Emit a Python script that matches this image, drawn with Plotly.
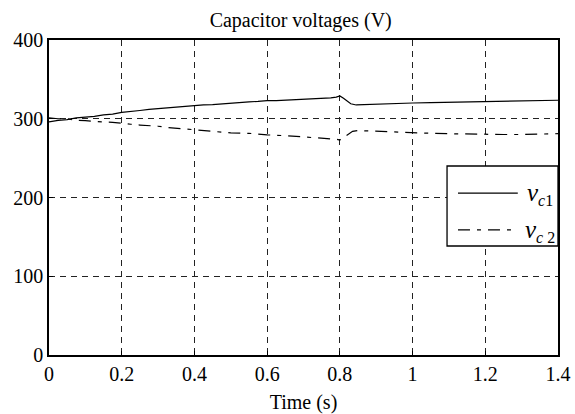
import plotly.graph_objects as go

t1 = [0, 0.025, 0.05, 0.075, 0.1, 0.125, 0.15, 0.175, 0.2, 0.225, 0.25, 0.275, 0.3, 0.325,
      0.35, 0.375, 0.4, 0.425, 0.45, 0.475, 0.5, 0.525, 0.55, 0.575, 0.6, 0.625, 0.65, 0.675,
      0.7, 0.725, 0.75, 0.775, 0.79, 0.8, 0.81, 0.82, 0.83, 0.845, 0.87, 0.9, 0.925, 0.95,
      0.975, 1.0, 1.05, 1.1, 1.15, 1.2, 1.25, 1.3, 1.35, 1.4]
vc1 = [296, 298, 299, 301, 302, 303, 305, 306, 308, 309, 310.5, 312, 313, 314,
       315, 316, 316.5, 317.5, 318, 319, 320, 320.5, 321.5, 322, 323, 323, 323.5, 324,
       324.5, 325, 325.5, 326.5, 327.5, 329, 326, 322, 319, 317.5, 318, 318.5, 319, 319,
       319.5, 320, 320.5, 321, 321.5, 322, 322.5, 323, 323.5, 323.5]

t2 = [0, 0.025, 0.05, 0.075, 0.1, 0.125, 0.15, 0.175, 0.2, 0.225, 0.25, 0.275, 0.3, 0.325,
      0.35, 0.375, 0.4, 0.425, 0.45, 0.475, 0.5, 0.55, 0.6, 0.65, 0.7, 0.75, 0.775, 0.79,
      0.8, 0.81, 0.82, 0.835, 0.85, 0.9, 0.95, 1.0, 1.05, 1.1, 1.15, 1.2, 1.25, 1.3, 1.35, 1.4]
vc2 = [301, 300, 300, 298, 297.5, 296.5, 296, 295.5, 294, 293, 292, 291.5, 290.5, 289,
       288, 287, 286, 285, 284, 283, 282, 281.5, 279.5, 278.5, 277, 276, 275, 274,
       273, 276, 280, 284, 285, 284, 283, 282, 281.5, 281, 280.5, 280, 280, 280, 280.5, 281]

xticks = [0, 0.2, 0.4, 0.6, 0.8, 1, 1.2, 1.4]
xticklabels = ["0", "0.2", "0.4", "0.6", "0.8", "1", "1.2", "1.4"]
yticks = [0, 100, 200, 300, 400]
series_names = [
    "<i>v</i><sub><span style='font-size:16px'><i>c</i>1</span></sub>",
    "<i>v</i><sub><span style='font-size:16px'><i>c</i> 2</span></sub>",
]

FONT = "Liberation Serif"
DASH2 = "12px,7px,4px,7px"

fig = go.Figure()
fig.add_trace(go.Scatter(x=t1, y=vc1, mode="lines", name=series_names[0],
                         line=dict(color="black", width=1.2), showlegend=False))
fig.add_trace(go.Scatter(x=t2, y=vc2, mode="lines", name=series_names[1],
                         line=dict(color="black", width=1.2, dash=DASH2), showlegend=False))

axis_common = dict(showline=True, linecolor="black", linewidth=1.5, mirror=True,
                   showgrid=True, gridcolor="#222", gridwidth=0.8, griddash="6px,5px",
                   ticks="inside", ticklen=4, tickcolor="black", zeroline=False,
                   automargin=False,
                   tickfont=dict(family=FONT, size=20, color="black"))

fig.update_xaxes(range=[0, 1.4], tickvals=xticks, ticktext=xticklabels,
                 title=dict(text="Time (s)", font=dict(family=FONT, size=20, color="black"), standoff=12),
                 **axis_common)
fig.update_yaxes(range=[0, 400], tickvals=yticks, **axis_common)

# legend box (drawn in paper coordinates, MATLAB-style)
shapes = [
    dict(type="rect", xref="paper", yref="paper", x0=0.782, x1=1.0, y0=0.346, y1=0.6,
         line=dict(color="black", width=1.3), fillcolor="white", layer="above"),
    dict(type="line", xref="paper", yref="paper", x0=0.8035, x1=0.921, y0=0.514, y1=0.514,
         line=dict(color="black", width=1.2), layer="above"),
    dict(type="line", xref="paper", yref="paper", x0=0.8035, x1=0.921, y0=0.397, y1=0.397,
         line=dict(color="black", width=1.2, dash=DASH2), layer="above"),
]
annotations = [
    dict(text=series_names[0], xref="paper", yref="paper", x=0.936, y=0.512,
         xanchor="left", yanchor="middle", showarrow=False,
         font=dict(family=FONT, size=25, color="black")),
    dict(text=series_names[1], xref="paper", yref="paper", x=0.932, y=0.393,
         xanchor="left", yanchor="middle", showarrow=False,
         font=dict(family=FONT, size=25, color="black")),
]

fig.update_layout(
    width=575, height=414,
    margin=dict(l=49, r=17, t=40, b=59, autoexpand=False),
    paper_bgcolor="white", plot_bgcolor="white",
    title=dict(text="Capacitor voltages (V)", x=0.523, xanchor="center", y=0.952, yanchor="middle",
               font=dict(family=FONT, size=20, color="black")),
    shapes=shapes, annotations=annotations,
    showlegend=False,
)

fig.write_html(
    "out.html",
    config={"displayModeBar": False},
    post_script="document.body.style.margin='0';document.body.style.overflow='hidden';",
)
